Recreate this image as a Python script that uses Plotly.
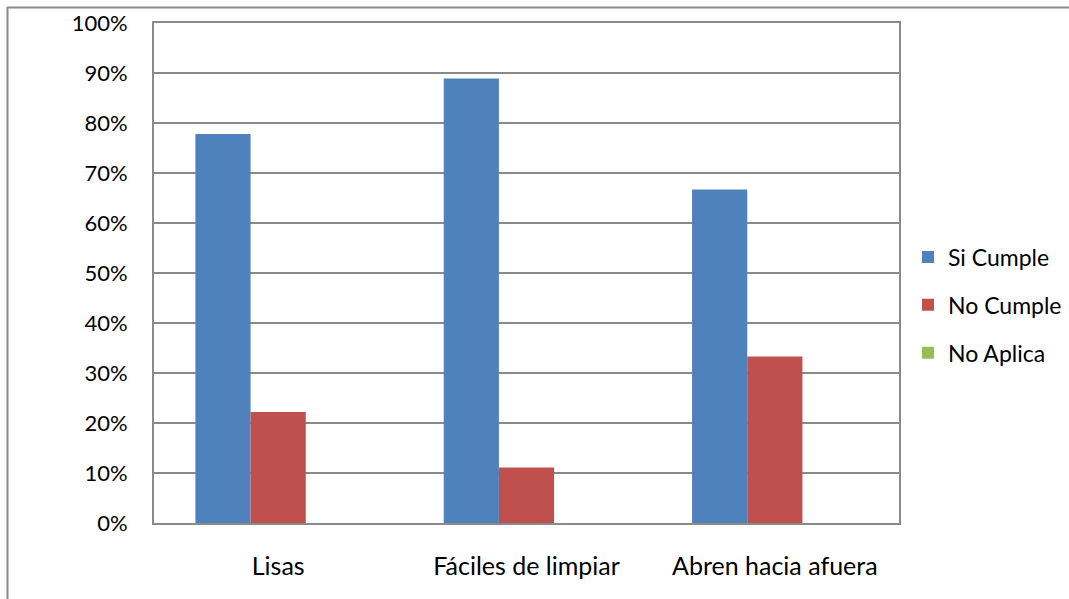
import plotly.graph_objects as go

categories = ["Lisas", "Fáciles de limpiar", "Abren hacia afuera"]
si_cumple = [0.778, 0.889, 0.667]
no_cumple = [0.222, 0.111, 0.333]
no_aplica = [0.0, 0.0, 0.0]
tick_vals = [i / 10 for i in range(11)]
tick_text = [f"{i * 10}%" for i in range(11)]

FONT = "Lato"
GRID = "#8a8a8a"

W, H = 1069, 599
ML, MR, MT, MB = 154, 170, 23, 76
PW, PH = W - ML - MR, H - MT - MB

fig = go.Figure()
series = [
    ("Si Cumple", si_cumple, "#4f81bd"),
    ("No Cumple", no_cumple, "#c0504d"),
    ("No Aplica", no_aplica, "#9bbb59"),
]
for i, (name, vals, color) in enumerate(series):
    fig.add_trace(go.Bar(
        x=categories, y=vals, name=name, marker_color=color,
        marker_line_width=0, legendgroup=f"g{i}",
    ))


def px_x(p):
    return (p - ML) / PW


def px_y(p):
    return (H - MB - p) / PH


# outer chart frame (left and top edges)
fig.add_shape(type="line", xref="paper", yref="paper",
              x0=px_x(7.5), x1=px_x(7.5), y0=px_y(7), y1=px_y(H + 2),
              line=dict(color=GRID, width=2))
fig.add_shape(type="line", xref="paper", yref="paper",
              x0=px_x(7), x1=px_x(W + 2), y0=px_y(7.5), y1=px_y(7.5),
              line=dict(color=GRID, width=2))

fig.update_layout(
    width=W, height=H,
    margin=dict(l=ML, r=MR, t=MT, b=MB, autoexpand=False),
    paper_bgcolor="white", plot_bgcolor="white",
    barmode="group", bargap=1.5 / 4.5, bargroupgap=0,
    font=dict(family=FONT, size=24, color="#000000"),
    showlegend=True,
    legend=dict(
        x=px_x(908), xanchor="left", y=px_y(305), yanchor="middle",
        traceorder="grouped", tracegroupgap=15,
        font=dict(family=FONT, size=23, color="#000000"),
        bgcolor="rgba(0,0,0,0)",
    ),
    xaxis=dict(
        showline=True, linecolor=GRID, linewidth=2, mirror=True,
        showgrid=False, ticks="", ticklabelstandoff=20,
        tickfont=dict(family=FONT, size=25),
    ),
    yaxis=dict(
        range=[0, 1], tickvals=tick_vals, ticktext=tick_text,
        showline=True, linecolor=GRID, linewidth=2, mirror=True,
        showgrid=True, gridcolor=GRID, gridwidth=1.5,
        ticks="", ticklabelstandoff=20, zeroline=False,
        tickfont=dict(family=FONT, size=22),
    ),
)

fig.write_html("out.html")
